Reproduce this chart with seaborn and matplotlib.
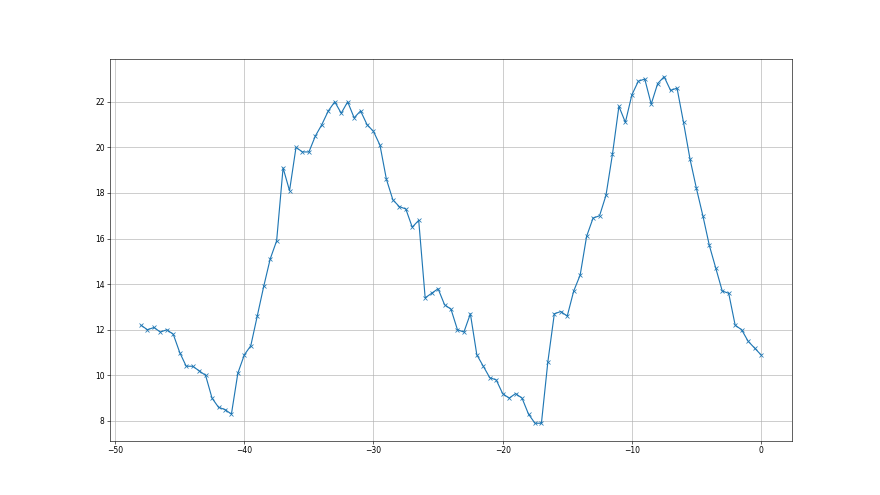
import numpy as np
import pandas as pd
import matplotlib
matplotlib.use("Agg")
import matplotlib.pyplot as plt
import seaborn as sns

x_vals = np.arange(-48, 0.5, 0.5)
y_vals = [12.2, 12.0, 12.1, 11.9, 12.0, 11.8, 11.0, 10.4, 10.4, 10.2,
          10.0, 9.0, 8.6, 8.5, 8.3, 10.1, 10.9, 11.3, 12.6, 13.9,
          15.1, 15.9, 19.1, 18.1, 20.0, 19.8, 19.8, 20.5, 21.0, 21.6,
          22.0, 21.5, 22.0, 21.3, 21.6, 21.0, 20.7, 20.1, 18.6, 17.7,
          17.4, 17.3, 16.5, 16.8, 13.4, 13.6, 13.8, 13.1, 12.9, 12.0,
          11.9, 12.7, 10.9, 10.4, 9.9, 9.8, 9.2, 9.0, 9.2, 9.0,
          8.3, 7.9, 7.9, 10.6, 12.7, 12.8, 12.6, 13.7, 14.4, 16.1,
          16.9, 17.0, 17.9, 19.7, 21.8, 21.1, 22.3, 22.9, 23.0, 21.9,
          22.8, 23.1, 22.5, 22.6, 21.1, 19.5, 18.2, 17.0, 15.7, 14.7,
          13.7, 13.6, 12.2, 12.0, 11.5, 11.2, 10.9]

df = pd.DataFrame({"x": x_vals, "y": y_vals})

fig, ax = plt.subplots(figsize=(16, 9), dpi=55)
sns.lineplot(data=df, x="x", y="y", ax=ax, marker="x", color="#1f77b4",
             markeredgecolor="#1f77b4", markeredgewidth=1.0, markersize=6)
ax.grid(True, color="#b0b0b0", linewidth=0.8)
ax.set_xlabel("")
ax.set_ylabel("")
ax.set_xticks([-50, -40, -30, -20, -10, 0])
ax.set_yticks([8, 10, 12, 14, 16, 18, 20, 22])
fig.subplots_adjust(left=0.125, right=0.9, bottom=0.11, top=0.88)
fig.savefig("out.png", dpi=55)
